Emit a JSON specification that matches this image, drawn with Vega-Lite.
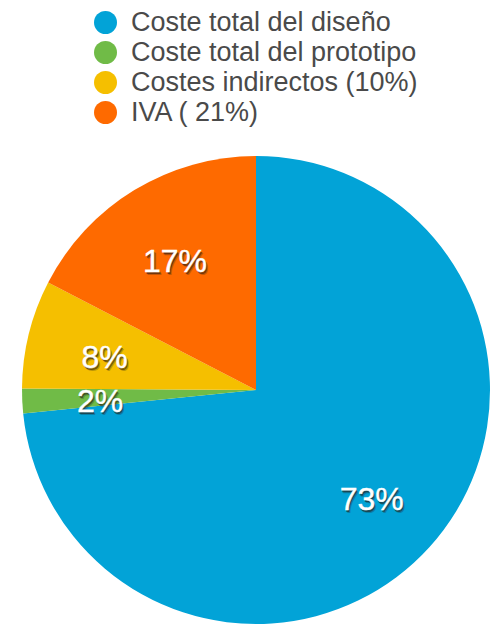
{
  "$schema": "https://vega.github.io/schema/vega-lite/v6.json",
  "width": 512,
  "height": 472,
  "autosize": "none",
  "padding": {"top": 154, "left": 0, "right": 0, "bottom": 0},
  "background": "white",
  "config": {"view": {"stroke": null}, "font": "Liberation Sans"},
  "data": {
    "values": [
      {"cat": "\u2005Coste total del diseño", "value": 73.4, "label": "73%", "o": 1},
      {"cat": "Coste total del prototipo", "value": 1.7, "label": "2%", "o": 2},
      {"cat": "Costes indirectos (10%)", "value": 7.5, "label": "8%", "o": 3},
      {"cat": "IVA ( 21%)", "value": 17.4, "label": "17%", "o": 4}
    ]
  },
  "encoding": {
    "theta": {"field": "value", "type": "quantitative", "stack": true},
    "order": {"field": "o", "type": "quantitative"},
    "color": {
      "field": "cat",
      "type": "nominal",
      "scale": {
        "domain": ["\u2005Coste total del diseño", "Coste total del prototipo", "Costes indirectos (10%)", "IVA ( 21%)"],
        "range": ["#02a3d7", "#70bb47", "#f5bf00", "#fe6a00"]
      },
      "legend": {
        "title": null,
        "orient": "none",
        "legendX": 92,
        "legendY": -145,
        "symbolType": "circle",
        "symbolSize": 529,
        "symbolStrokeWidth": 0,
        "symbolOpacity": 1,
        "labelFontSize": 27,
        "labelColor": "#4a4a4a",
        "labelFont": "Liberation Sans",
        "labelOffset": 12,
        "rowPadding": 2,
        "labelLimit": 400,
        "padding": 0
      }
    }
  },
  "layer": [
    {"mark": {"type": "arc", "radius": 234, "stroke": null}},
    {
      "mark": {"type": "text", "radius": 156, "fontSize": 32, "dx": 2, "dy": 8, "font": "Liberation Sans", "opacity": 0.25},
      "encoding": {"text": {"field": "label"}, "color": {"value": "#1a1a1a"}}
    },
    {
      "mark": {"type": "text", "radius": 156, "fontSize": 32, "dx": 1, "dy": 7, "font": "Liberation Sans", "opacity": 0.55},
      "encoding": {"text": {"field": "label"}, "color": {"value": "#2a1a10"}}
    },
    {
      "mark": {"type": "text", "radius": 156, "fontSize": 32, "dy": 5, "font": "Liberation Sans", "stroke": "white", "strokeWidth": 0.4},
      "encoding": {"text": {"field": "label"}, "color": {"value": "white"}}
    }
  ]
}
